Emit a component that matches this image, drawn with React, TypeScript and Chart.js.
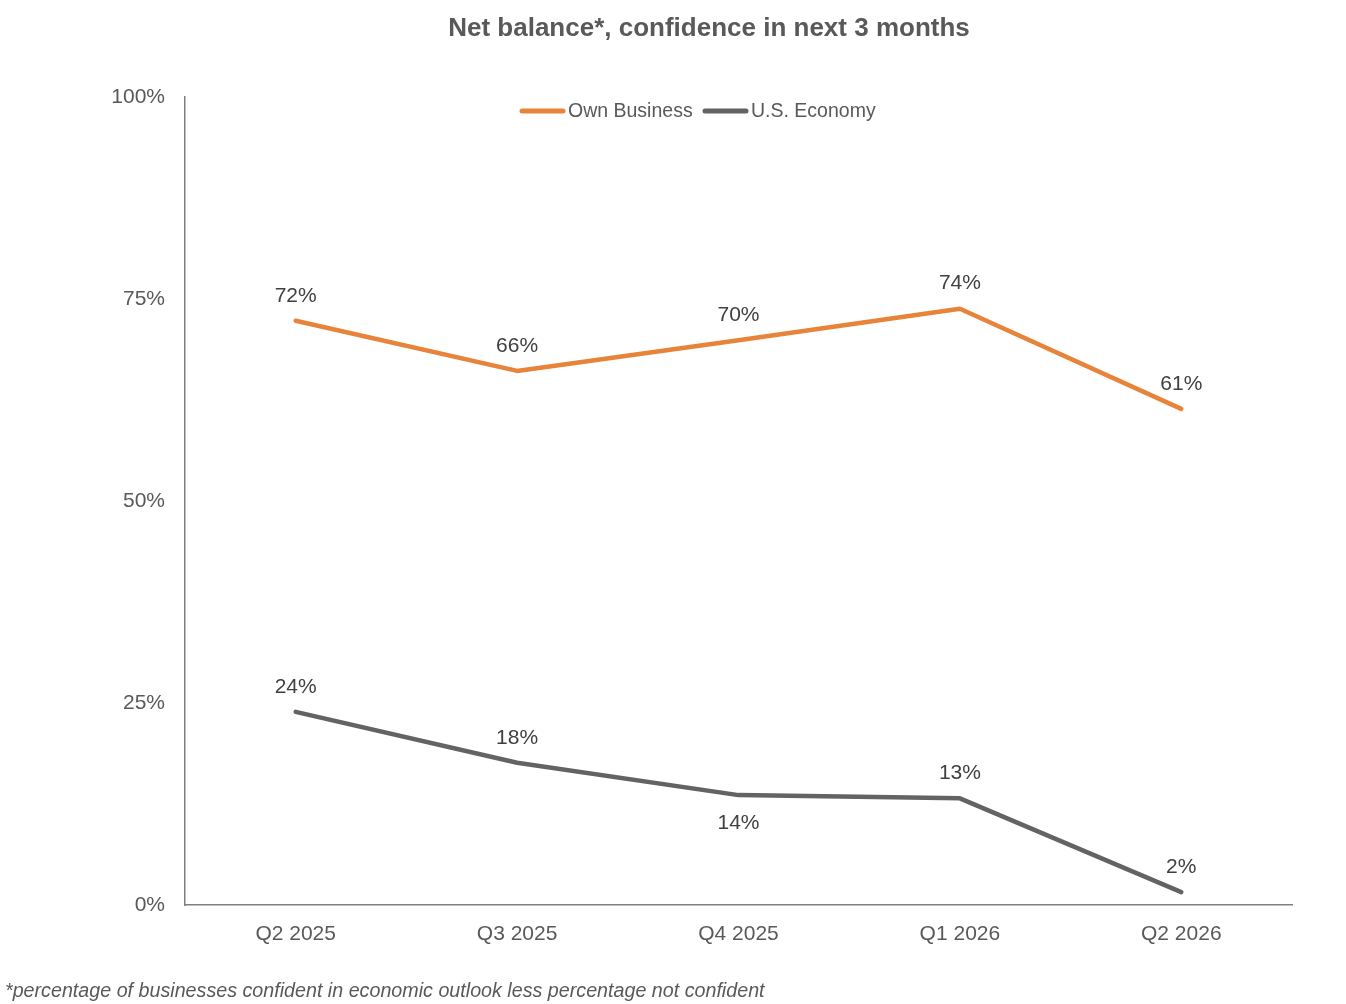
import React, { useEffect, useRef } from "react";
import { Chart, registerables } from "chart.js";

Chart.register(...registerables);

const categories = ["Q2 2025", "Q3 2025", "Q4 2025", "Q1 2026", "Q2 2026"];
const ownBusiness = [72.3, 66.1, 69.9, 73.8, 61.4];
const usEconomy = [23.9, 17.6, 13.6, 13.2, 1.6];
const ownLabels = ["72%", "66%", "70%", "74%", "61%"];
const usLabels = ["24%", "18%", "14%", "13%", "2%"];
const usLabelBelow = [false, false, true, false, false];
const yTicks = [0, 25, 50, 75, 100];

const TITLE = "Net balance*, confidence in next 3 months";
const FOOTNOTE = "*percentage of businesses confident in economic outlook less percentage not confident";
const ORANGE = "#E8833A";
const GRAY = "#636363";
const FONT = "'Liberation Sans', Arial, Helvetica, sans-serif";

const W = 1346;
const H = 1004;

export default function App() {
  const ref = useRef<HTMLCanvasElement | null>(null);

  useEffect(() => {
    document.body.style.margin = "0";
    const canvas = ref.current;
    if (!canvas) return;

    const overlay = {
      id: "overlay",
      afterDatasetsDraw(chart: any) {
        const ctx = chart.ctx;
        ctx.save();
        // data labels
        ctx.font = `21px ${FONT}`;
        ctx.fillStyle = "#404040";
        ctx.textAlign = "center";
        ctx.textBaseline = "middle";
        const m0 = chart.getDatasetMeta(0);
        m0.data.forEach((pt: any, i: number) => {
          ctx.fillText(ownLabels[i], pt.x, pt.y - 25);
        });
        const m1 = chart.getDatasetMeta(1);
        m1.data.forEach((pt: any, i: number) => {
          ctx.fillText(usLabels[i], pt.x, usLabelBelow[i] ? pt.y + 28 : pt.y - 25);
        });

        // title
        ctx.font = `bold 26px ${FONT}`;
        ctx.fillStyle = "#595959";
        ctx.fillText(TITLE, W / 2 + 36, 29);

        // legend
        ctx.font = `19.5px ${FONT}`;
        ctx.fillStyle = "#595959";
        ctx.textAlign = "left";
        ctx.lineCap = "round";
        ctx.lineWidth = 5;
        const items = [
          { label: "Own Business", color: ORANGE, x: 522 },
          { label: "U.S. Economy", color: GRAY, x: 705 },
        ];
        const ly = 111;
        items.forEach((it) => {
          ctx.strokeStyle = it.color;
          ctx.beginPath();
          ctx.moveTo(it.x, ly);
          ctx.lineTo(it.x + 41, ly);
          ctx.stroke();
          ctx.fillText(it.label, it.x + 46, ly + 1);
        });

        // footnote
        ctx.font = `italic 19.7px ${FONT}`;
        ctx.fillStyle = "#595959";
        ctx.textAlign = "left";
        ctx.fillText(FOOTNOTE, 5, 992);
        ctx.restore();
      },
    };

    const chart = new Chart(canvas, {
      type: "line",
      data: {
        labels: categories,
        datasets: [
          {
            label: "Own Business",
            data: ownBusiness,
            borderColor: ORANGE,
            backgroundColor: ORANGE,
            borderWidth: 4.5,
            pointRadius: 0,
            borderCapStyle: "round",
            borderJoinStyle: "round",
            tension: 0,
          },
          {
            label: "U.S. Economy",
            data: usEconomy,
            borderColor: GRAY,
            backgroundColor: GRAY,
            borderWidth: 4.5,
            pointRadius: 0,
            borderCapStyle: "round",
            borderJoinStyle: "round",
            tension: 0,
          },
        ],
      },
      options: {
        responsive: false,
        animation: false,
        devicePixelRatio: 1,
        layout: { padding: { top: 97, left: 0, right: 54, bottom: 0 } },
        plugins: {
          legend: { display: false },
          title: { display: false },
          tooltip: { enabled: false },
        },
        scales: {
          x: {
            type: "category",
            offset: true,
            grid: { display: false, drawTicks: false },
            border: { display: true, color: "#7f7f7f", width: 1.5 },
            ticks: {
              color: "#595959",
              font: { size: 21, family: FONT },
              padding: 17,
              maxRotation: 0,
            },
            afterFit(scale: any) {
              scale.height = 99;
            },
          },
          y: {
            min: 0,
            max: 100,
            grid: { display: false, drawTicks: false },
            border: { display: true, color: "#7f7f7f", width: 1.5 },
            afterBuildTicks(scale: any) {
              scale.ticks = yTicks.map((v) => ({ value: v }));
            },
            ticks: {
              color: "#595959",
              font: { size: 21, family: FONT },
              padding: 20,
              callback: (v: any) => `${v}%`,
            },
            afterFit(scale: any) {
              scale.width = 185;
            },
          },
        },
      },
      plugins: [overlay],
    });

    return () => chart.destroy();
  }, []);

  return (
    <div style={{ width: W, height: H, position: "relative", background: "#fff" }}>
      <canvas ref={ref} width={W} height={H} style={{ display: "block", width: W, height: H }} />
    </div>
  );
}
